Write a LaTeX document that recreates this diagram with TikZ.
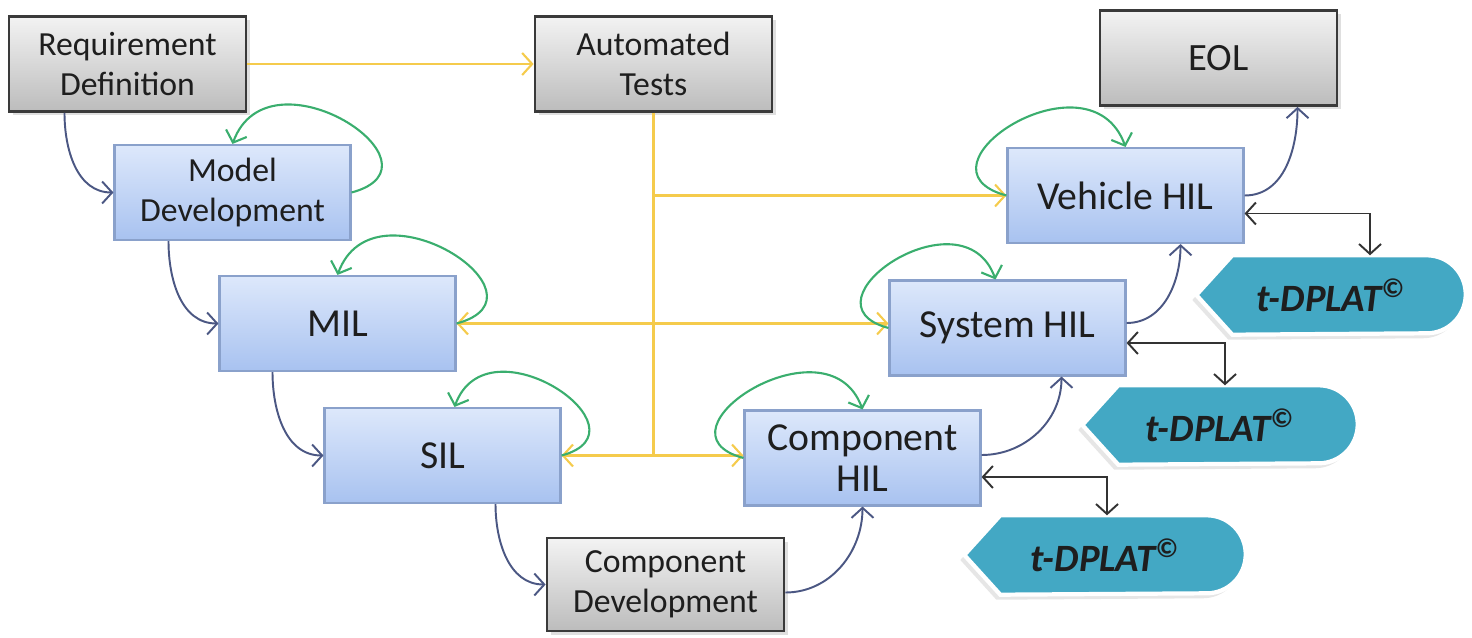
\documentclass[tikz,border=0pt]{standalone}
\usepackage{fontspec}
\setmainfont{Carlito}
\usetikzlibrary{arrows.meta,backgrounds,shadows}
\definecolor{hilblue}{HTML}{DDE8FB}
\definecolor{hilbluedark}{HTML}{A8C2F0}
\definecolor{hilborder}{HTML}{8AA1CB}
\definecolor{stagegray}{HTML}{F3F3F3}
\definecolor{stagegraydark}{HTML}{BCBCBC}
\definecolor{stageborder}{HTML}{3A3A3A}
\definecolor{dplat}{HTML}{43A8C4}
\definecolor{flowblue}{HTML}{4B5783}
\definecolor{testyellow}{HTML}{F5CB4C}
\definecolor{loopgreen}{HTML}{3AAE6E}
\definecolor{inktext}{HTML}{1E1E1E}

\begin{document}
\begin{tikzpicture}[
  x=0.1mm, y=0.1mm,
  font=\fontsize{9.6}{11.4}\selectfont, text=inktext,
  stage/.style={draw=stageborder, line width=0.8pt, top color=stagegray,
    bottom color=stagegraydark, align=center, inner sep=0pt,
    minimum width=23.7mm, minimum height=9.5mm,
    drop shadow={shadow xshift=0.4mm, shadow yshift=-0.4mm, opacity=0.25}},
  hil/.style={draw=hilborder, line width=0.6pt, top color=hilblue,
    bottom color=hilbluedark, align=center, inner sep=0pt,
    minimum width=23.6mm, minimum height=9.5mm,
    font=\fontsize{11.3}{11.8}\selectfont},
  tool/.style={inner sep=0pt, minimum height=7.8mm,
    font=\fontsize{11}{13}\selectfont\bfseries\itshape},
  toolshape/.style={fill=dplat, draw=white, line width=1.2pt,
    drop shadow={shadow xshift=-0.4mm, shadow yshift=-0.5mm, opacity=0.2}},
  flow/.style={-{Straight Barb[length=1mm,width=2.2mm]}, draw=flowblue, line width=0.55pt},
  link/.style={{Straight Barb[length=1mm,width=2.2mm]}-{Straight Barb[length=1mm,width=2.2mm]},
    draw=black!80, line width=0.55pt},
  test/.style={-{Straight Barb[length=1mm,width=2.2mm]}, draw=testyellow, line width=0.6pt},
  testboth/.style={test, {Straight Barb[length=1mm,width=2.2mm]}-{Straight Barb[length=1mm,width=2.2mm]}},
  iter/.style={-{Straight Barb[length=1mm,width=2.2mm]}, draw=loopgreen, line width=0.6pt}
]
\useasboundingbox (0,0) rectangle (1472,637);

\node[stage] (req) at (127.5,573) {Requirement\\Definition};
\node[stage] (at) at (653.5,573) {Automated\\Tests};
\node[stage, font=\fontsize{11}{13}\selectfont] (eol) at (1218.5,579) {EOL};
\node[hil, font=\fontsize{9.6}{11.4}\selectfont] (md) at (232.5,444.5) {Model\\Development};
\node[hil] (mil) at (337.5,313.5) {MIL};
\node[hil] (sil) at (442.5,181.5) {SIL};
\node[stage, minimum height=9.3mm] (cd) at (665.5,52.5) {Component\\Development};
\node[hil] (chil) at (862.5,179) {Component\\HIL};
\node[hil] (sys) at (1007.5,309) {System HIL};
\node[hil] (veh) at (1125.5,441.5) {Vehicle HIL};
\node[tool, minimum width=26.8mm] (dp1) at (1331,342) {t-DPLAT\textsuperscript{\textcopyright}};
\node[tool, minimum width=27.4mm] (dp2) at (1220,212) {t-DPLAT\textsuperscript{\textcopyright}};
\node[tool, minimum width=28mm] (dp3) at (1105,82) {t-DPLAT\textsuperscript{\textcopyright}};

\begin{pgfonlayer}{background}
\foreach \d in {dp1,dp2,dp3}
  \path[toolshape] (\d.west) -- ([xshift=3.6mm]\d.north west)
    -- ([xshift=-3.9mm]\d.north east) arc[start angle=90, end angle=-90, radius=3.9mm]
    -- ([xshift=3.6mm]\d.south west) -- cycle;
\end{pgfonlayer}

\draw[test] (req) -- (at);
\draw[test, -] (at.south) -- (at.south |- sil.east);
\draw[test] (at.south |- veh.west) -- (veh.west);
\draw[testboth] (mil.east) -- (mil.east -| sys.west);
\draw[testboth] (sil.east) -- (sil.east -| chil.west);

\draw[flow] ([xshift=-6.3mm]req.south) to[out=-90, in=180] (md.west);
\draw[flow] ([xshift=-6.4mm]md.south) to[out=-90, in=180] (mil.west);
\draw[flow] ([xshift=-6.5mm]mil.south) to[out=-90, in=180] (sil.west);
\draw[flow] ([xshift=5.3mm]sil.south) to[out=-90, in=180] (cd.west);
\draw[flow] ([yshift=-0.8mm]cd.east) to[out=0, in=-90] (chil.south);
\draw[flow] ([yshift=0.3mm]chil.east) to[out=0, in=-90] ([xshift=5.4mm]sys.south);
\draw[flow] ([yshift=0.5mm]sys.east) to[out=0, in=-90] ([xshift=5.5mm]veh.south);
\draw[flow] (veh.east) to[out=0, in=-90] ([xshift=7.9mm]eol.south);

\draw[iter] (md.east) to[out=15, in=70, looseness=2.1] (md.north);
\draw[iter] (mil.east) to[out=15, in=70, looseness=2.1] (mil.north);
\draw[iter] (sil.east) to[out=15, in=70, looseness=2.1] ([xshift=1.2mm]sil.north);
\draw[iter] (chil.west) to[out=165, in=110, looseness=2] (chil.north);
\draw[iter] (sys.west) to[out=165, in=110, looseness=2.1] ([xshift=-1.2mm]sys.north);
\draw[iter] (veh.west) to[out=165, in=110, looseness=2.1] (veh.north);

\draw[link] ([yshift=-1.8mm]veh.east) -| ([xshift=3.9mm]dp1.north);
\draw[link] ([yshift=-1.5mm]sys.east) -| ([xshift=0.5mm]dp2.north);
\draw[link] ([yshift=-1.9mm]chil.east) -| ([xshift=0.2mm]dp3.north);
\end{tikzpicture}
\end{document}
